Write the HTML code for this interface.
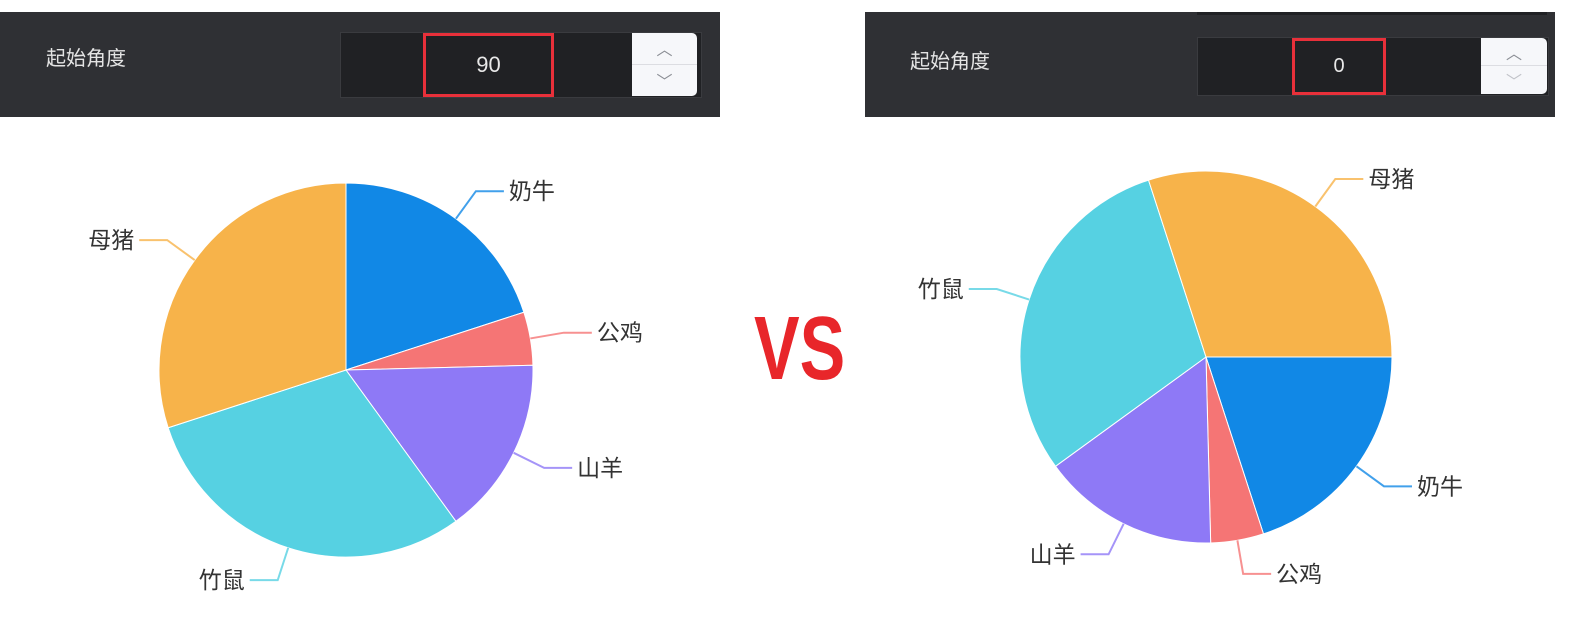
<!DOCTYPE html>
<html><head><meta charset="utf-8">
<style>
html,body{margin:0;padding:0;background:#fff;}
body{width:1584px;height:629px;position:relative;overflow:hidden;font-family:"Liberation Sans","Noto Sans CJK SC",sans-serif;}
.bar{position:absolute;background:#2f3034;}
.lbl{position:absolute;color:#e4e4e4;font-size:20px;}
.inp{position:absolute;background:#202124;border:1px solid #3a3b3f;box-sizing:border-box;}
.red{position:absolute;border:3px solid #e8303a;box-sizing:border-box;color:#e8e8e8;font-size:22px;display:flex;align-items:center;justify-content:center;}
.spin{position:absolute;background:#f6f7fa;border-radius:0 5px 5px 0;color:#8a8d94;font-size:16px;}
.spin div{height:50%;display:flex;align-items:center;justify-content:center;}
.spin div:first-child{border-bottom:1px solid #dcdde2;box-sizing:border-box;}
#vs{position:absolute;left:754px;top:304px;font-size:90px;font-weight:bold;color:#e8262a;transform:scaleX(0.76);transform-origin:0 0;line-height:1;}
</style></head><body>
<div class="bar" style="left:0;top:12px;width:720px;height:105px;"></div>
<div class="lbl" style="left:46px;top:42px;">起始角度</div>
<div class="inp" style="left:340px;top:32px;width:362px;height:66px;"></div>
<div class="red" style="left:423px;top:33px;width:131px;height:64px;">90</div>
<div class="spin" style="left:632px;top:33px;width:65px;height:63px;"><div>︿</div><div>﹀</div></div>

<div class="bar" style="left:865px;top:12px;width:690px;height:105px;"></div>
<div style="position:absolute;left:1197px;top:12px;width:350px;height:3px;background:#202124;"></div>
<div class="lbl" style="left:910px;top:45px;">起始角度</div>
<div class="inp" style="left:1197px;top:37px;width:352px;height:59px;"></div>
<div class="red" style="left:1292px;top:38px;width:94px;height:57px;font-size:20px;">0</div>
<div class="spin" style="left:1481px;top:38px;width:66px;height:56px;"><div>︿</div><div style="color:#c0c2c8">﹀</div></div>

<div id="vs">VS</div>

<svg id="svg" width="1584" height="629" style="position:absolute;left:0;top:0"></svg>
<script>
const categories=["奶牛","公鸡","山羊","竹鼠","母猪"];
const values=[20,4.6,15.4,30,30];
const colors=["#1188e6","#f57575","#8e79f6","#56d1e2","#f7b34a"];
const startAngles=[90,0];
const charts=[{cx:346,cy:370,r:187},{cx:1206,cy:357,r:186}];
const NS="http://www.w3.org/2000/svg";
const svg=document.getElementById('svg');
const total=values.reduce((a,b)=>a+b,0);
function pt(c,deg,r){const a=deg*Math.PI/180;return [c.cx+r*Math.cos(a),c.cy-r*Math.sin(a)];}
charts.forEach((c,ci)=>{
  let ang=startAngles[ci];
  const g=document.createElementNS(NS,'g');
  
  
  svg.appendChild(g);
  values.forEach((v,i)=>{
    const sweep=v/total*360;
    const a0=ang,a1=ang-sweep;
    const p0=pt(c,a0,c.r),p1=pt(c,a1,c.r);
    const path=document.createElementNS(NS,'path');
    path.setAttribute('d',`M${c.cx},${c.cy}L${p0[0]},${p0[1]}A${c.r},${c.r} 0 ${sweep>180?1:0} 1 ${p1[0]},${p1[1]}Z`);
    path.setAttribute('fill',colors[i]);
    path.setAttribute('stroke','#fff');
    path.setAttribute('stroke-width','1');
    
    
    g.appendChild(path);
    const mid=ang-sweep/2;
    const e=pt(c,mid,c.r),k=pt(c,mid,c.r+34);
    const right=Math.cos(mid*Math.PI/180)>=0;
    const hx=k[0]+(right?28:-28);
    const line=document.createElementNS(NS,'polyline');
    line.setAttribute('points',`${e[0]},${e[1]} ${k[0]},${k[1]} ${hx},${k[1]}`);
    line.setAttribute('fill','none');
    line.setAttribute('stroke',colors[i]);
    line.setAttribute('stroke-width','2');
    line.setAttribute('opacity','0.8');
    
    
    g.appendChild(line);
    const t=document.createElementNS(NS,'text');
    t.setAttribute('x',hx+(right?5:-5));
    t.setAttribute('y',k[1]+8);
    t.setAttribute('text-anchor',right?'start':'end');
    t.setAttribute('font-size','23');
    t.setAttribute('fill','#333');
    t.setAttribute('font-family','"Liberation Sans","Noto Sans CJK SC",sans-serif');
    t.textContent=categories[i];
    
    
    g.appendChild(t);
    ang=a1;
  });
});
</script>
</body></html>
